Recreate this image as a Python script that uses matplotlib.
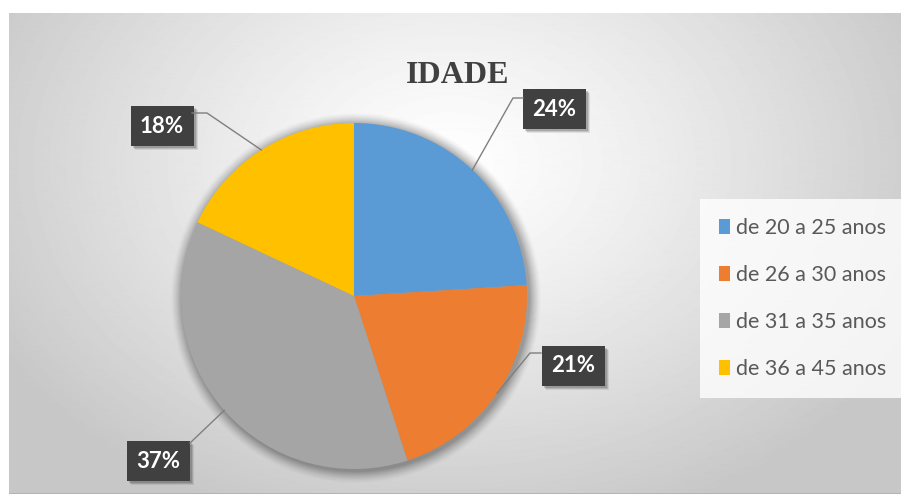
import numpy as np
import matplotlib
matplotlib.use("Agg")
import matplotlib.pyplot as plt
from matplotlib.patches import Circle, Rectangle

# age groups and their share
categories = ["de 20 a 25 anos", "de 26 a 30 anos", "de 31 a 35 anos", "de 36 a 45 anos"]
shares = [24, 21, 37, 18]
colors = ["#5B9BD5", "#ED7D31", "#A5A5A5", "#FFC000"]
title = "IDADE"

W, H = 901, 494
fig = plt.figure(figsize=(W / 100, H / 100), dpi=100, facecolor="white")

# grey radial backdrop of the chart area (white strip left and top)
bg = fig.add_axes([9 / W, 0, (W - 9) / W, (H - 13) / H])
bg.set_axis_off()
yy, xx = np.mgrid[0:H - 13, 0:W - 9]
d = np.sqrt(((xx - 440) / 520.0) ** 2 + ((yy - 150) / 380.0) ** 2)
shade = 1.0 - (1.0 - 0.78) * np.clip(d, 0, 1) ** 1.2
bg.imshow(shade, cmap="gray", vmin=0, vmax=1, aspect="auto",
          extent=(0, W - 9, H - 13, 0))
bg.axhline(H - 13.5, color="#b0b0b0", lw=1.2)
bg.set_xlim(0, W - 9)
bg.set_ylim(H - 13, 0)

# main axes in pixel units, y pointing up
ax = fig.add_axes([0, 0, 1, 1])
ax.set_axis_off()
ax.patch.set_alpha(0)

cx, cy, r = 354, H - 296, 173

# soft glow behind the pie
for k, a in zip(range(12, 0, -1), np.linspace(0.012, 0.05, 12)):
    ax.add_patch(Circle((cx + 2, cy - 2), r + k, color="black", alpha=a, lw=0))

wedges, _ = ax.pie(shares, colors=colors, startangle=90, counterclock=False,
                   center=(cx, cy), radius=r, frame=True,
                   wedgeprops=dict(linewidth=0))
ax.set_xlim(0, W)
ax.set_ylim(0, H)
ax.set_axis_off()

ax.text(458, H - 75, title, ha="center", va="center", fontsize=23,
        fontweight="bold", family="Liberation Serif", color="#404040")

# data labels: box centre and the knee of the leader line
label_pos = [(554, H - 109), (573, H - 366), (158, H - 461), (162, H - 126)]
knees = [(513, H - 98), (530, H - 353), (190, H - 443), (207, H - 113)]
box_edge = [(523, H - 98), (541, H - 353), (190, H - 443), (192, H - 113)]
bw, bh = 63, 40

total = sum(shares)
for w, val, (tx, ty), kn, be in zip(wedges, shares, label_pos, knees, box_edge):
    mid = np.deg2rad((w.theta1 + w.theta2) / 2)
    px, py = cx + r * np.cos(mid), cy + r * np.sin(mid)
    ax.plot([px, kn[0], be[0]], [py, kn[1], be[1]], color="#7f7f7f", lw=1.0)
    for s, a in ((4, 0.08), (3, 0.12), (2, 0.15)):
        ax.add_patch(Rectangle((tx - bw / 2 + s, ty - bh / 2 - s), bw, bh,
                               fc="black", alpha=a, lw=0))
    ax.add_patch(Rectangle((tx - bw / 2, ty - bh / 2), bw, bh, fc="#404040", lw=0))
    ax.text(tx, ty, f"{round(100 * val / total)}%", ha="center", va="center",
            fontsize=16, fontweight="bold", family="Lato", color="white")

leg = ax.legend(wedges, categories, loc="upper left",
                bbox_to_anchor=(706 / W, 1 - 205 / H), frameon=True,
                prop=dict(family="Lato", size=15.5), labelcolor="#595959",
                handlelength=0.5, handleheight=0.7, handletextpad=0.3,
                labelspacing=1.25, borderpad=0.6, borderaxespad=0)
frame = leg.get_frame()
frame.set_facecolor((1, 1, 1, 0.2))
frame.set_linewidth(0)
frame.set_boxstyle("square")

fig.savefig("out.png", dpi=100, facecolor="white")
